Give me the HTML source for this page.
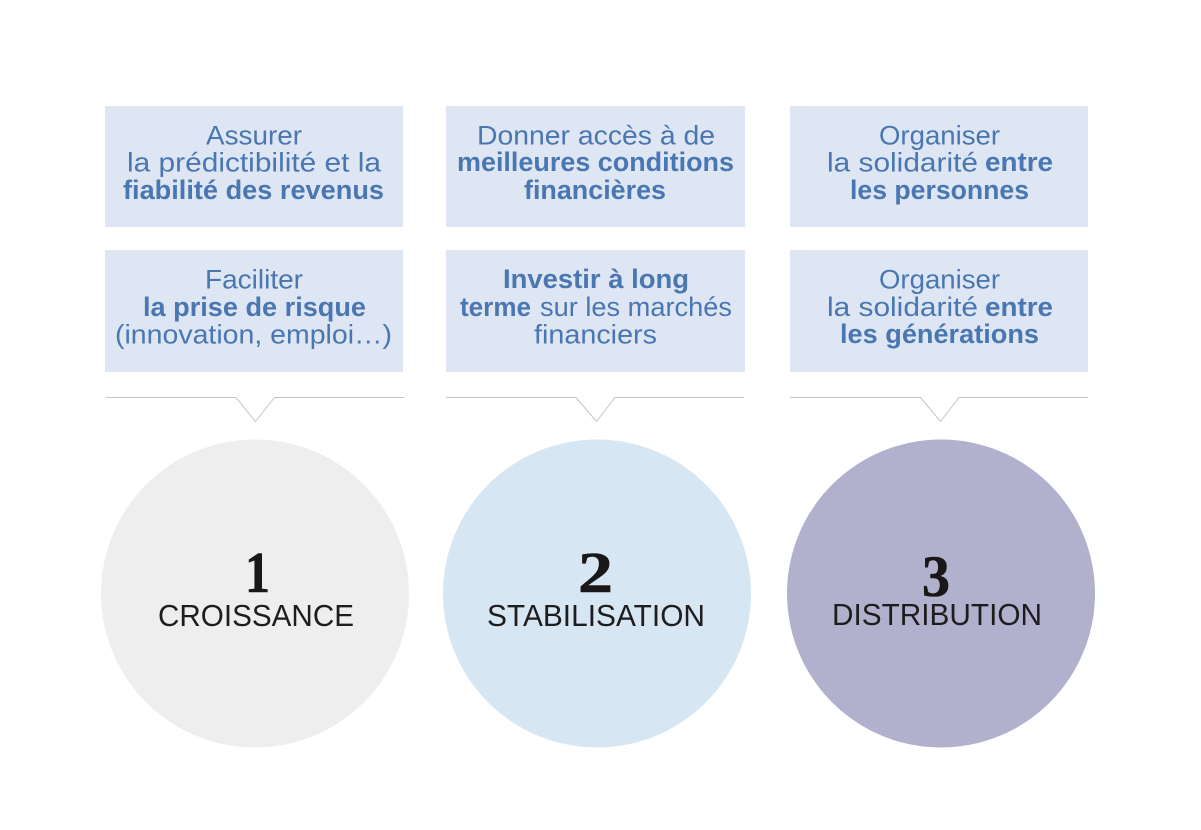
<!DOCTYPE html>
<html lang="fr">
<head>
<meta charset="utf-8">
<title>Croissance, stabilisation, distribution</title>
<style>
html,body{margin:0;padding:0;background:#fff;width:1201px;height:830px;overflow:hidden}
svg{display:block}
text{font-family:"Liberation Sans",sans-serif;white-space:pre}
.t text,.t{fill:#4a76b2;font-size:27px}
.t text.b{font-weight:bold;font-size:26.500px}
.n{font-family:"Liberation Serif",serif;font-weight:bold;font-size:58px;fill:#1a1718;stroke:#1a1718;stroke-width:.6}
.l{font-size:31px;fill:#1f1c1d}
</style>
</head>
<body>
<svg width="1201" height="830" viewBox="0 0 1201 830" xmlns="http://www.w3.org/2000/svg">
<rect width="1201" height="830" fill="#fff"/>
<g fill="#dde6f2">
<rect x="105" y="106" width="298" height="121"/>
<rect x="105" y="250" width="298" height="122"/>
<rect x="446" y="106" width="299" height="121"/>
<rect x="446" y="250" width="299" height="122"/>
<rect x="790" y="106" width="298" height="121"/>
<rect x="790" y="250" width="298" height="122"/>
</g>
<g fill="none" stroke="#c4c4c4" stroke-width="1">
<path d="M106 397.500H236L255.500 421.500L274.500 397.500H404"/>
<path d="M446 397.500H576L596.500 421.500L615 397.500H744"/>
<path d="M790 397.500H920.500L940.500 421.500L959 397.500H1088"/>
</g>
<circle cx="255" cy="593.500" r="154" fill="#eeeeee"/>
<circle cx="597" cy="593.500" r="154" fill="#d7e6f3"/>
<circle cx="941" cy="593.500" r="154" fill="#b1b1cd"/>
<g class="t">
<text x="206" y="144.500" textLength="96" lengthAdjust="spacingAndGlyphs">Assurer</text>
<text x="127" y="171.500" textLength="254" lengthAdjust="spacingAndGlyphs">la prédictibilité et la</text>
<text class="b" x="123" y="199" textLength="261" lengthAdjust="spacingAndGlyphs">fiabilité des revenus</text>
<text x="205" y="288.500" textLength="98" lengthAdjust="spacingAndGlyphs">Faciliter</text>
<text class="b" x="143" y="316" textLength="223" lengthAdjust="spacingAndGlyphs">la prise de risque</text>
<text x="115" y="343.500" textLength="277" lengthAdjust="spacingAndGlyphs">(innovation, emploi…)</text>

<text x="477" y="144.500" textLength="238" lengthAdjust="spacingAndGlyphs">Donner accès à de</text>
<text class="b" x="457" y="171" textLength="277" lengthAdjust="spacingAndGlyphs">meilleures conditions</text>
<text class="b" x="524" y="199" textLength="142" lengthAdjust="spacingAndGlyphs">financières</text>
<text class="b" x="503" y="288" textLength="186" lengthAdjust="spacingAndGlyphs">Investir à long</text>
<text class="b" x="460" y="316" textLength="71" lengthAdjust="spacingAndGlyphs">terme</text>
<text x="540" y="316" textLength="192" lengthAdjust="spacingAndGlyphs">sur les marchés</text>
<text x="534" y="343.500" textLength="123" lengthAdjust="spacingAndGlyphs">financiers</text>

<text x="879" y="144.500" textLength="121" lengthAdjust="spacingAndGlyphs">Organiser</text>
<text x="827" y="171.500" textLength="151" lengthAdjust="spacingAndGlyphs">la solidarité</text>
<text class="b" x="985" y="171" textLength="68" lengthAdjust="spacingAndGlyphs">entre</text>
<text class="b" x="850" y="199" textLength="179" lengthAdjust="spacingAndGlyphs">les personnes</text>
<text x="879" y="288.500" textLength="121" lengthAdjust="spacingAndGlyphs">Organiser</text>
<text x="827" y="316" textLength="151" lengthAdjust="spacingAndGlyphs">la solidarité</text>
<text class="b" x="985" y="316" textLength="68" lengthAdjust="spacingAndGlyphs">entre</text>
<text class="b" x="840" y="343" textLength="199" lengthAdjust="spacingAndGlyphs">les générations</text>
</g>
<text class="n" x="245" y="592" textLength="25" lengthAdjust="spacingAndGlyphs">1</text>
<text class="n" x="578" y="592" textLength="35" lengthAdjust="spacingAndGlyphs">2</text>
<text class="n" x="922" y="596" textLength="28" lengthAdjust="spacingAndGlyphs">3</text>
<text class="l" x="158" y="626" textLength="196" lengthAdjust="spacingAndGlyphs">CROISSANCE</text>
<text class="l" x="487" y="626" textLength="218" lengthAdjust="spacingAndGlyphs">STABILISATION</text>
<text class="l" x="832" y="625" textLength="210" lengthAdjust="spacingAndGlyphs">DISTRIBUTION</text>
</svg>
</body>
</html>
